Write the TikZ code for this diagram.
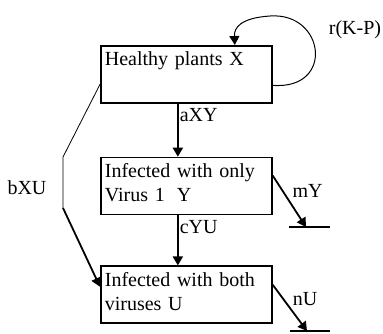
\documentclass[tikz,border=0pt]{standalone}
\usepackage{fontspec}
\setmainfont{Liberation Serif}
\usetikzlibrary{arrows.meta, positioning}

\begin{document}
\begin{tikzpicture}[
    x=1pt, y=1pt,
    >={Triangle[length=9pt, width=10pt]},
    every node/.style={font=\fontsize{20}{24}\selectfont},
    box/.style={draw, line width=1.7pt, minimum width=171pt, text width=163pt,
                align=left, inner sep=3pt, text height=17pt, text depth=34pt},
    flow/.style={->, line width=1.8pt},
    rate/.style={inner sep=1pt},
]
  \useasboundingbox (0,0) rectangle (383,-333);
  \node[box, anchor=north west] (healthy) at (100,-45) {Healthy plants X};
  \node[box, below=53pt of healthy] (infone) {Infected with only\\Virus 1\hspace{12pt}Y};
  \node[box, below=50pt of infone] (both) {Infected with both\\viruses U};
  \coordinate (bxubend) at (63,-208);
  \coordinate (sinkY) at (306,-227);
  \coordinate (sinkU) at (307,-331);
  % growth loop
  \draw[->, line width=1pt] ([yshift=-11pt]healthy.east)
        .. controls (335,-90) and (325,-12) .. (270,-16)
        .. controls (240,-18) and (234,-28) .. ([xshift=48.5pt]healthy.north);
  \node[rate] (rkp) at (355,-30) {r(K-P)};
  % infections
  \draw[flow] ([xshift=-8.5pt]healthy.south) --
        node[rate, pos=0, anchor=north west, yshift=-3pt]{aXY}
        ([xshift=-8.5pt]infone.north);
  \draw[flow] ([xshift=-8.5pt]infone.south) --
        node[rate, pos=0, anchor=north west, yshift=-3pt]{cYU}
        ([xshift=-8.5pt]both.north);
  \draw[line width=0.8pt] ([yshift=-10pt]healthy.west) -- (63,-157) -- (bxubend);
  \draw[flow] (bxubend) -- ([yshift=8pt]both.west);
  \node[rate] (bxu) at (27,-188) {bXU};
  % deaths
  \draw[flow] ([yshift=10.5pt]infone.east) --
        node[rate, pos=0.3, anchor=west, xshift=8pt]{mY} (sinkY);
  \draw[line width=1.8pt] ([xshift=-17pt]sinkY) -- ([xshift=24pt]sinkY);
  \draw[flow] ([yshift=10pt]both.east) --
        node[rate, pos=0.3, anchor=west, xshift=8pt]{nU} (sinkU);
  \draw[line width=1.8pt] ([xshift=-17pt]sinkU) -- ([xshift=23pt]sinkU);
\end{tikzpicture}
\end{document}
